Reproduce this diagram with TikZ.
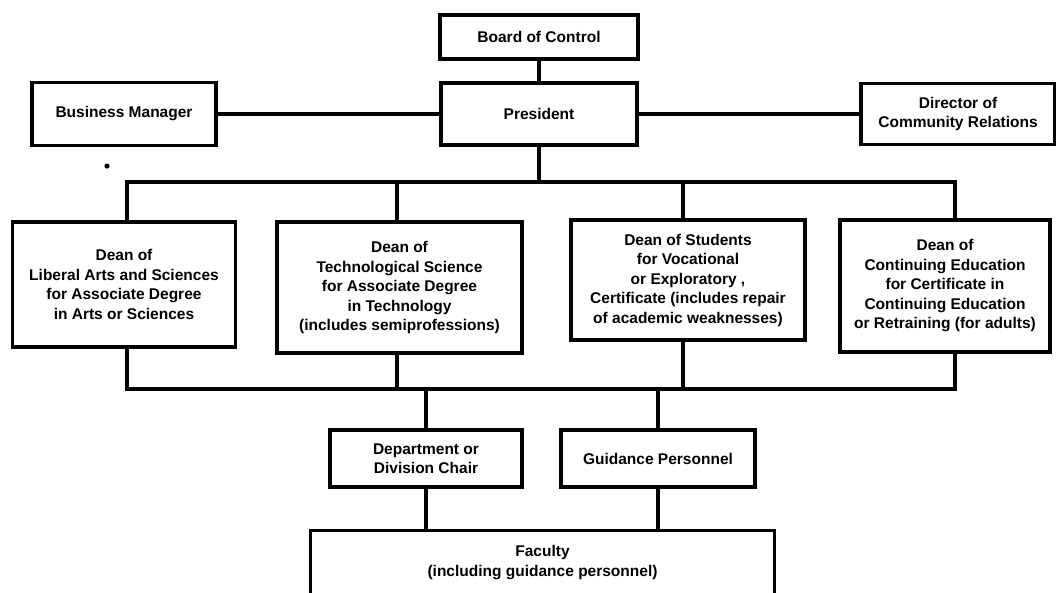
\documentclass[tikz,border=0pt]{standalone}
\usepackage{fontspec}
\setmainfont{Liberation Sans}
\begin{document}
\begin{tikzpicture}[x=1pt,y=-1pt,
  box/.style={draw, line width=3.2pt, rectangle, align=center,
    font=\bfseries\fontsize{15.5}{19.5}\selectfont, inner sep=0pt},
  conn/.style={line width=3.2pt, line cap=rect}]
\useasboundingbox (0,0) rectangle (1056,592);
\fill[white] (0,0) rectangle (1056,592);

% top level
\node[box, minimum width=198pt, minimum height=44pt] (board) at (539,37) {Board of Control};
\node[box, minimum width=196pt, minimum height=62pt] (pres) at (539,114) {President};
\node[box, minimum width=184pt, minimum height=63pt] (bus) at (124,114) {Business Manager};
\node[box, minimum width=194pt, minimum height=61pt] (dir) at (958,114) {Director of\\Community Relations};
\fill (107,166) circle (2.6pt);

% deans
\node[box, minimum width=223pt, minimum height=125pt] (lib) at (124,284.5)
  {Dean of\\Liberal Arts and Sciences\\for Associate Degree\\in Arts or Sciences};
\node[box, minimum width=245pt, minimum height=131pt] (tech) at (399.5,287.5)
  {Dean of\\Technological Science\\for Associate Degree\\in Technology\\(includes semiprofessions)};
\node[box, minimum width=234pt, minimum height=120pt] (stud) at (688,280)
  {Dean of Students\\for Vocational\\or Exploratory ,\\Certificate (includes repair\\of academic weaknesses)};
\node[box, minimum width=210pt, minimum height=132pt] (cont) at (945,286)
  {Dean of\\Continuing Education\\for Certificate in\\Continuing Education\\or Retraining (for adults)};

% lower level
\node[box, minimum width=192pt, minimum height=57pt] (dept) at (426,458.5) {Department or\\Division Chair};
\node[box, minimum width=194pt, minimum height=57pt] (guid) at (658,458.5) {Guidance Personnel};
\node[box, draw=none, minimum width=461pt, minimum height=61pt] (fac) at (542.5,562.5)
  {Faculty\\(including guidance personnel)};
\draw[line width=3.2pt] ([yshift=-10pt]fac.south west) -- (fac.north west) -- (fac.north east) -- ([yshift=-10pt]fac.south east);

% bus coordinates
\coordinate (t1) at (127,182);
\coordinate (t2) at (397,182);
\coordinate (t3) at (683,182);
\coordinate (t4) at (955,182);
\coordinate (b1) at (127,389);
\coordinate (b2) at (397,389);
\coordinate (b3) at (683,389);
\coordinate (b4) at (955,389);

% connectors
\draw[conn] (board) -- (pres);
\draw[conn] (bus) -- (pres);
\draw[conn] (pres) -- (dir);
\draw[conn] (pres.south) -- (pres.south |- t1);
\draw[conn] (t1) -- (t4);
\draw[conn] (t1) -- (t1 |- lib.north);
\draw[conn] (t2) -- (t2 |- tech.north);
\draw[conn] (t3) -- (t3 |- stud.north);
\draw[conn] (t4) -- (t4 |- cont.north);
\draw[conn] (b1 |- lib.south) -- (b1);
\draw[conn] (b2 |- tech.south) -- (b2);
\draw[conn] (b3 |- stud.south) -- (b3);
\draw[conn] (b4 |- cont.south) -- (b4);
\draw[conn] (b1) -- (b4);
\draw[conn] (dept.north |- b1) -- (dept.north);
\draw[conn] (guid.north |- b1) -- (guid.north);
\draw[conn] (dept.south) -- (dept.south |- fac.north);
\draw[conn] (guid.south) -- (guid.south |- fac.north);
\end{tikzpicture}
\end{document}
